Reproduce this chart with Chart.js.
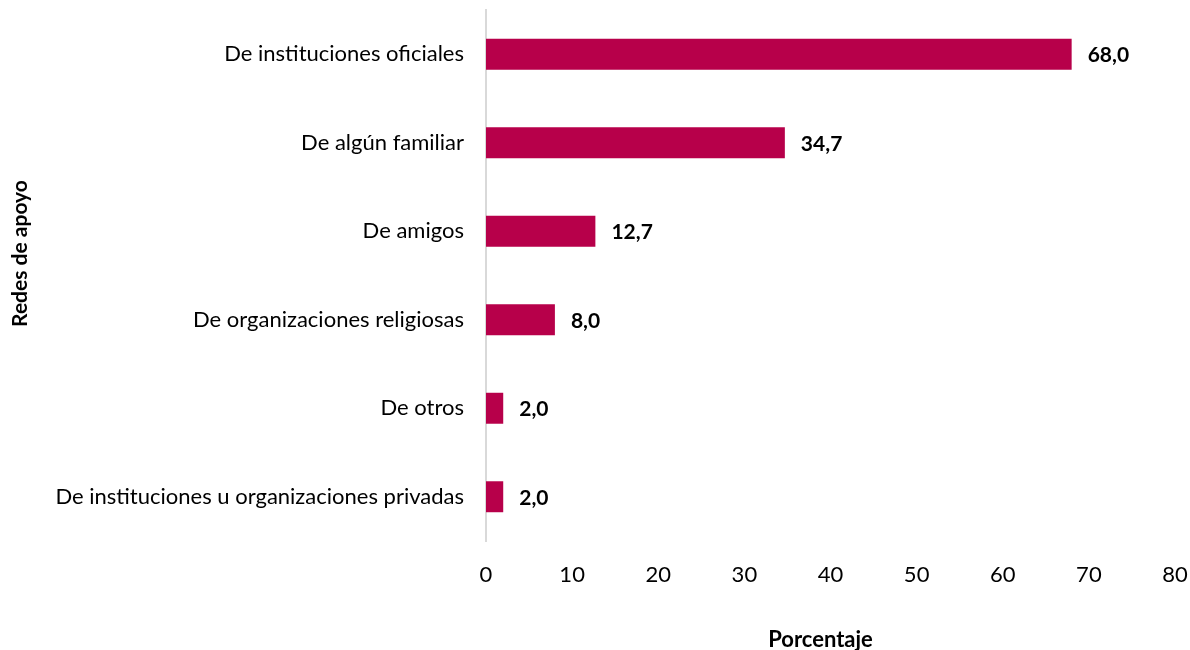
<!DOCTYPE html>
<html>
<head>
<meta charset="utf-8">
<script src="https://cdn.jsdelivr.net/npm/chart.js@4"></script>
<style>
html,body{margin:0;padding:0;background:#fff;}
#wrap{width:1190px;height:650px;position:relative;}
</style>
</head>
<body>
<div id="wrap"><canvas id="c" width="1190" height="650"></canvas></div>
<script>
const categories = [
  "De instituciones oficiales",
  "De algún familiar",
  "De amigos",
  "De organizaciones religiosas",
  "De otros",
  "De instituciones u organizaciones privadas"
];
const values = [68.0, 34.7, 12.7, 8.0, 2.0, 2.0];
const xTicks = [0, 10, 20, 30, 40, 50, 60, 70, 80];
const xTitle = "Porcentaje";
const yTitle = "Redes de apoyo";

const FONT = "Lato, 'Liberation Sans', sans-serif";
const barColor = "#B7004A";

const valueLabels = {
  id: 'valueLabels',
  afterDatasetsDraw(chart) {
    const ctx = chart.ctx;
    const meta = chart.getDatasetMeta(0);
    ctx.save();
    ctx.font = "bold 21px " + FONT;
    ctx.fillStyle = "#000";
    ctx.textBaseline = "middle";
    ctx.textAlign = "left";
    meta.data.forEach((bar, i) => {
      const txt = values[i].toFixed(1).replace('.', ',');
      ctx.fillText(txt, bar.x + 16, bar.y + 1);
    });
    ctx.restore();
  }
};

const axisTitles = {
  id: 'axisTitles',
  afterDraw(chart) {
    const ctx = chart.ctx;
    const area = chart.chartArea;
    ctx.save();
    ctx.font = "bold 22px " + FONT;
    ctx.fillStyle = "#000";
    ctx.textAlign = "center";
    ctx.textBaseline = "middle";
    ctx.fillText(xTitle, (area.left + area.right) / 2 - 10, 640);
    ctx.translate(20, (area.top + area.bottom) / 2 - 22);
    ctx.rotate(-Math.PI / 2);
    ctx.font = "bold 21px " + FONT;
    ctx.fillText(yTitle, 0, 0);
    ctx.restore();
  }
};

new Chart(document.getElementById('c'), {
  type: 'bar',
  data: {
    labels: categories,
    datasets: [{
      data: values,
      backgroundColor: barColor,
      borderWidth: 0,
      barPercentage: 0.35,
      categoryPercentage: 1.0
    }]
  },
  options: {
    indexAxis: 'y',
    responsive: false,
    animation: false,
    devicePixelRatio: 1,
    layout: { padding: { top: 10, right: 15, left: 0, bottom: 0 } },
    plugins: { legend: { display: false }, tooltip: { enabled: false } },
    scales: {
      x: {
        min: 0, max: 80,
        afterBuildTicks(scale) { scale.ticks = xTicks.map(v => ({ value: v })); },
        afterFit(scale) { scale.height = 109; scale.paddingLeft = 0; scale.paddingRight = 0; },
        grid: { display: false, drawTicks: false },
        border: { display: false },
        ticks: { font: { size: 22, family: FONT }, color: "#000", padding: 21 },
        title: { display: false }
      },
      y: {
        afterFit(scale) { scale.width = 486; scale.paddingTop = 0; scale.paddingBottom = 0; },
        grid: { display: false, drawTicks: false },
        border: { display: true, color: "#d9d9d9", width: 2 },
        ticks: { font: { size: 22, family: FONT }, color: "#000", padding: 22 },
        title: { display: false }
      }
    }
  },
  plugins: [valueLabels, axisTitles]
});
</script>
</body>
</html>
